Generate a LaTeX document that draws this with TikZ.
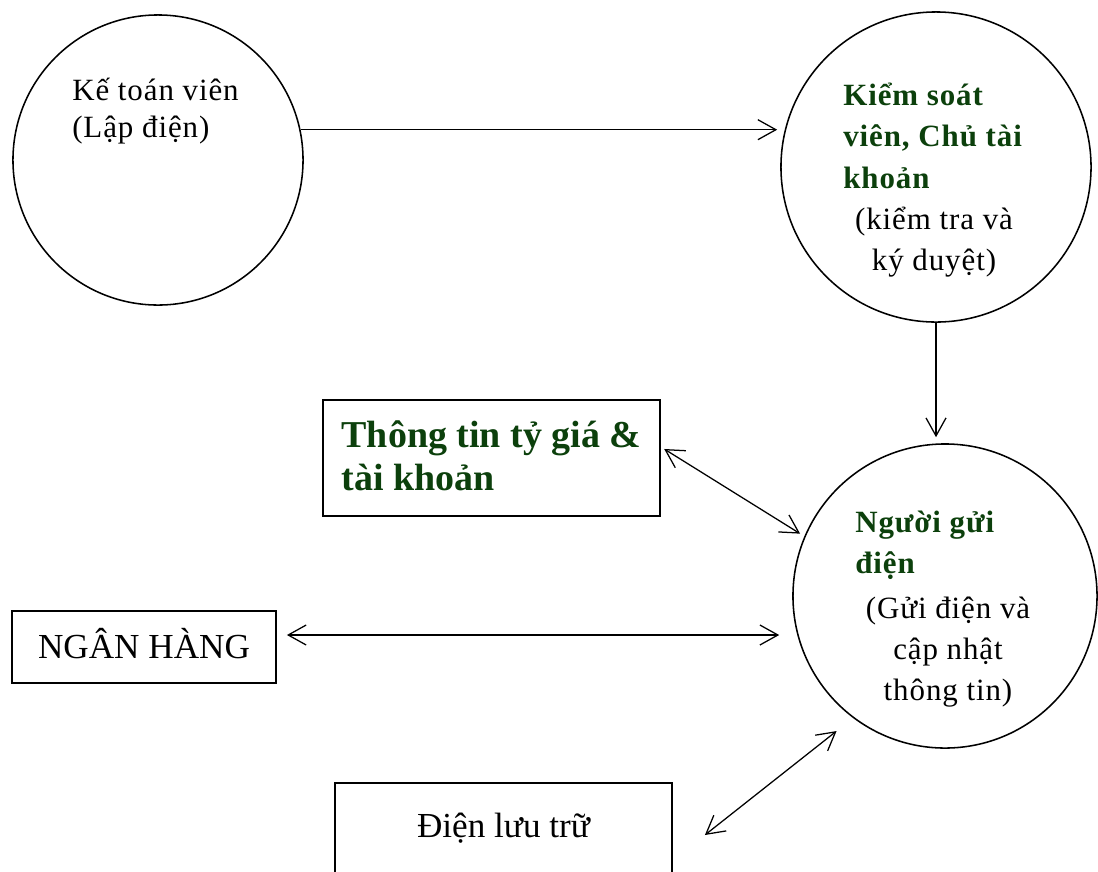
\documentclass[tikz,border=0pt]{standalone}
\usepackage{fontspec}
\setmainfont{Liberation Serif}
\newfontfamily\spacedserif[LetterSpace=3]{Liberation Serif}
\usetikzlibrary{arrows.meta, positioning}
\definecolor{titlegreen}{RGB}{12,64,12}

\begin{document}
\begin{tikzpicture}[
    x=0.025cm, y=-0.025cm,
    bubble/.style={circle, draw, line width=1.1pt, inner sep=0pt},
    infobox/.style={rectangle, draw, line width=1.2pt},
    roletext/.style={inner sep=0pt, align=center, anchor=base, font=\spacedserif\fontsize{22}{29}\selectfont},
    roletitle/.style={inner sep=0pt, align=left, anchor=base west, text=titlegreen, font=\spacedserif\bfseries\fontsize{22}{29.5}\selectfont},
    arrow/.style={-{Straight Barb[length=4.5mm, width=5mm]}, line width=0.9pt},
    biarrow/.style={{Straight Barb[length=4.5mm, width=5mm]}-{Straight Barb[length=4.5mm, width=5mm]}, line width=0.9pt}
]
\useasboundingbox (0,0) rectangle (1098,871);
\clip (0,0) rectangle (1098,871);

% ============ CIRCLES ============
\node[bubble, minimum size=7.25cm] (ktv) at (158,160) {};
\node[bubble, minimum size=7.75cm] (ksv) at (936,167) {};
\node[bubble, minimum size=7.6cm] (ngd) at (945,596) {};

% base anchor = last line
\node[roletext, align=left, anchor=base west, font=\spacedserif\fontsize{22}{26.3}\selectfont] (ktvtext) at (72,137) {Kế toán viên\\(Lập điện)};

\node[roletitle] (ksvtitle) at (843,188) {Kiểm soát\\viên, Chủ tài\\khoản};
\node[roletext, font=\spacedserif\fontsize{22}{28.5}\selectfont] (ksvnote) at (934,270) {(kiểm tra và\\ký duyệt)};

\node[roletitle, font=\spacedserif\bfseries\fontsize{22}{28.5}\selectfont] (ngdtitle) at (855,573) {Người gửi\\điện};
\node[roletext] (ngdnote) at (948,700) {(Gửi điện và\\cập nhật\\thông tin)};

% ============ BOXES ============
\node[infobox, anchor=north west, minimum width=8.425cm, inner ysep=0pt, text height=2.275cm, text depth=0.625cm,
      align=left, text=titlegreen, font=\bfseries\fontsize{27}{30.5}\selectfont] (rate) at (322,399) {Thông tin tỷ giá \&\\tài khoản};
\node[infobox, minimum width=6.6cm, minimum height=1.8cm, text height=0.575cm, text depth=0pt,
      font=\fontsize{25}{30}\selectfont] (bank) at (144,647) {NGÂN HÀNG};
\node[infobox, anchor=north, minimum width=8.425cm, inner ysep=0.3cm, text height=1.075cm, text depth=3cm,
      font=\fontsize{25}{30}\selectfont] (archive) at (503.5,782) {Điện lưu trữ};

% ============ CONNECTIONS ============
\draw[arrow, shorten >=0.075cm] (ktv.12.75) -- (ktv.12.75 -| ksv.west);
\draw[arrow, shorten >=0.15cm] (ksv.south) -- (ksv.south |- ngd.north);
\draw[biarrow, shorten <=0.1cm, shorten >=0.125cm] ([yshift=0.275cm]rate.east) -- (ngd.157.7);
\draw[biarrow, shorten <=0.25cm, shorten >=0.325cm] ([yshift=0.3cm]bank.east) -- ([yshift=0.3cm]bank.east -| ngd.west);
\draw[biarrow, shorten >=0.525cm] ([shift={(0.8cm,-1.325cm)}]archive.north east) -- (ngd.233);

\end{tikzpicture}
\end{document}
